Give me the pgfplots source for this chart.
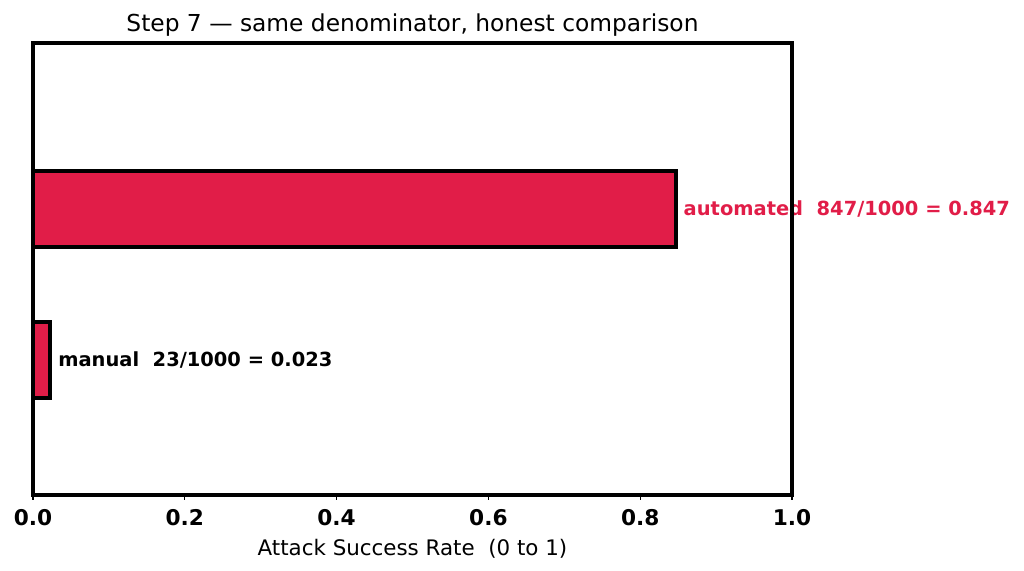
\documentclass[border=0pt]{standalone}
\usepackage{fontspec}
\setmainfont{DejaVu Sans}
\usepackage{pgfplots}
\pgfplotsset{compat=1.18}
\definecolor{barred}{HTML}{E11D48}
\begin{document}
\begin{tikzpicture}[x=1pt,y=1pt]
\useasboundingbox (0,0) rectangle (737.28,411.12);
\begin{axis}[
  at={(23.76pt,54.72pt)}, anchor=south west,
  scale only axis, width=546.48pt, height=325.44pt,
  xmin=0, xmax=1, ymin=-0.894, ymax=2.1,
  xbar, bar width=0.5,
  ytick=\empty,
  xtick={0,0.2,0.4,0.6,0.8,1.0},
  xticklabel style={font=\fontsize{15.6}{18}\selectfont\bfseries, yshift=-3pt},
  /pgf/number format/.cd, fixed, fixed zerofill, precision=1, assume math mode=true,
  /pgfplots/.cd,
  tick align=outside, major tick length=3.5pt,
  x tick style={line width=0.8pt, black},
  xtick pos=bottom,
  axis line style={line width=2.9pt},
  title={Step 7 — same denominator, honest comparison},
  title style={font=\fontsize{16.8}{19}\selectfont, yshift=-5pt},
  xlabel={Attack Success Rate\ \ (0 to 1)},
  xlabel style={font=\fontsize{15.4}{18}\selectfont, yshift=-3pt},
  axis on top,
  clip=false,
]
\addplot[fill=barred, draw=black, line width=2.9pt] coordinates {(0.023,0) (0.847,1)};
\node[anchor=west, inner sep=0, font=\fontsize{14}{16}\selectfont\bfseries, text=black] at (axis cs:0.033,0) {manual\ \ 23/1000 = 0.023};
\node[anchor=west, inner sep=0, font=\fontsize{14}{16}\selectfont\bfseries, text=barred] at (axis cs:0.857,1) {automated\ \ 847/1000 = 0.847};
\end{axis}
\end{tikzpicture}
\end{document}
